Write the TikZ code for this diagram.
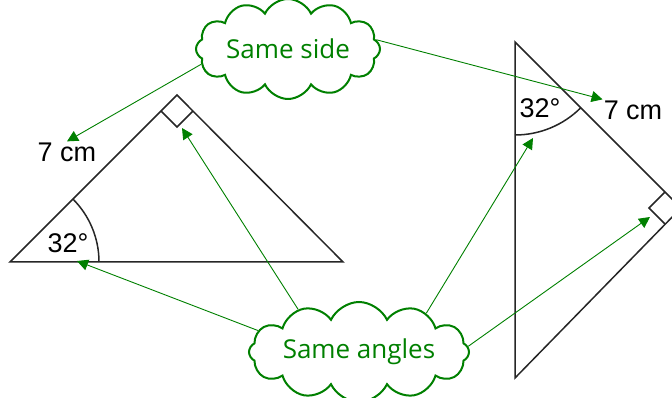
\documentclass[tikz,border=0pt]{standalone}
\usepackage{fontspec}
\newfontfamily\lblfont{Liberation Sans}
\newfontfamily\cldfont{Open Sans}
\usetikzlibrary{arrows.meta,shapes.symbols}
\definecolor{leaf}{RGB}{0,128,0}

\begin{document}
\begin{tikzpicture}[x=1pt, y=1pt,
    bubble/.style={cloud, cloud puffs=12, cloud puff arc=130, cloud ignores aspect, draw=leaf, line width=2pt, inner sep=0pt, font=\cldfont\fontsize{26}{30}\selectfont, text=leaf},
    lbl/.style={font=\lblfont\fontsize{27}{30}\selectfont, inner sep=1pt},
    arr/.style={-{Triangle[length=11pt,width=11pt]}, draw=leaf, line width=0.9pt},
    tri/.style={line width=1.5pt, draw=black!85, line join=miter}
]
\useasboundingbox (0,0) rectangle (672,398);

% left triangle
\coordinate (lA) at (10,136);
\coordinate (lB) at (177,303);
\coordinate (lC) at (343,136);
\draw[tri] (lA) -- (lB) -- (lC) -- cycle;
\draw[tri] (99,136) arc[start angle=0, end angle=45, radius=89];
\draw[tri] (161,287) -- (177,271) -- (193,287);
\node[lbl] (lang) at (68,155) {32°};
\node[lbl] (lcm) at (67,246) {7 cm};

% right triangle
\coordinate (rP) at (515,356);
\coordinate (rQ) at (681,190);
\coordinate (rR) at (515,20);
\draw[tri] (rP) -- (rQ) -- (rR) -- cycle;
\draw[tri] (515,263) arc[start angle=-90, end angle=-45, radius=93];
\draw[tri] (665,206) -- (649,190) -- (665,174);
\node[lbl] (rang) at (540,290) {32°};
\node[lbl] (rcm) at (633,288) {7 cm};

% clouds
\node[bubble, minimum width=184, minimum height=100] (side) at (288,349) {Same side};
\node[bubble, minimum width=220, minimum height=100] (angles) at (359,46) {Same angles};

% targets
\coordinate (lat) at (77,137);
\coordinate (lrt) at (182,270);
\coordinate (rat) at (533,260);
\coordinate (rrt) at (650,181);

\draw[arr] (side.190) -- (lcm.north);
\draw[arr] (side.6) -- (rcm.north west);
\draw[arr] (angles.168) -- (lat);
\draw[arr] (angles.145) -- (lrt);
\draw[arr] (angles.30) -- (rat);
\draw[arr] (angles.3) -- (rrt);
\end{tikzpicture}
\end{document}
